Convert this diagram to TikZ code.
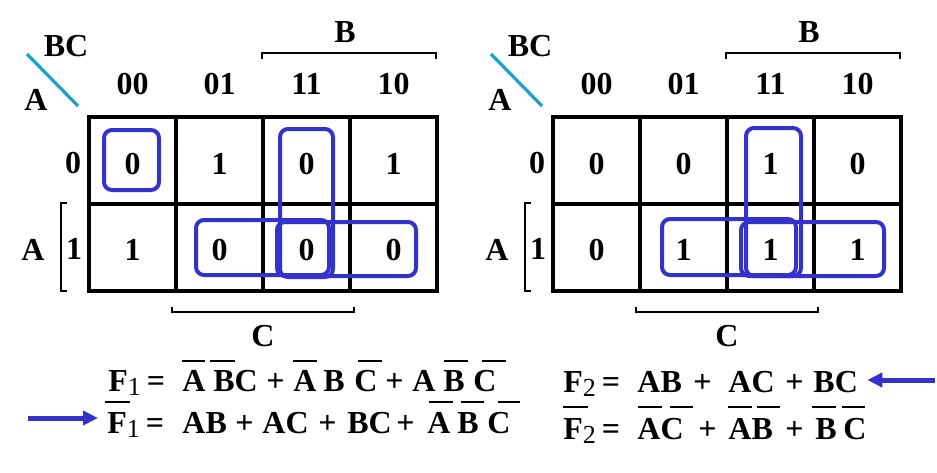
\documentclass[tikz,border=0pt]{standalone}
\usepackage{fontspec}
\setmainfont{Liberation Serif}
\usetikzlibrary{arrows.meta}

\definecolor{kblue}{RGB}{51,51,204}
\definecolor{kteal}{RGB}{23,162,200}
\newcommand{\fsub}[1]{\raisebox{-2pt}{\fontsize{13}{13}\selectfont\mdseries #1}}

\tikzset{
  kfont/.style={font=\fontsize{16}{19}\selectfont\bfseries},
  lbl/.style={kfont,inner sep=0pt},
  eq/.style={kfont,inner sep=0pt,anchor=base west},
  kgrid/.style={line width=1.6pt},
  brk/.style={line width=0.9pt},
  kloop/.style={draw=kblue,line width=2pt,rounded corners=4pt},
  ovl/.style={line width=0.7pt},
  slash/.style={draw=kteal,line width=1.6pt},
  hint/.style={draw=kblue,line width=2.5pt,-{Triangle[length=7.5pt,width=7pt]}}
}

\begin{document}
\begin{tikzpicture}[x=0.5pt,y=-0.5pt]
\useasboundingbox (0,0) rectangle (937,472);

% left map
\draw[kgrid] (89,117) rectangle (437,291);
\draw[kgrid] (176,117) -- (176,291);
\draw[kgrid] (263,117) -- (263,291);
\draw[kgrid] (350,117) -- (350,291);
\draw[kgrid] (89,204) -- (437,204);
\draw[slash] (27,54) -- (78,106);
\node[lbl] (bc1) at (66,46) {BC};
\node[lbl] (atop1) at (36,100) {A};
\node[lbl] (b1) at (345,32) {B};
\node[lbl] (c1) at (263,336) {C};
\node[lbl] (aside1) at (33,250) {A};
\draw[brk] (262,59) -- (262,53) -- (436,53) -- (436,59);
\draw[brk] (172,307) -- (172,312) -- (354,312) -- (354,307);
\draw[brk] (67,203) -- (61,203) -- (61,291) -- (67,291);
\node[lbl] (h1c00) at (132.5,84) {00};
\node[lbl] (h1c01) at (219.5,84) {01};
\node[lbl] (h1c11) at (306.5,84) {11};
\node[lbl] (h1c10) at (393.5,84) {10};
\node[lbl] (h1r0) at (73,163) {0};
\node[lbl] (h1r1) at (74,249) {1};
\node[lbl] (m1r0c00) at (132.5,164) {0};
\node[lbl] (m1r0c01) at (219.5,164) {1};
\node[lbl] (m1r0c11) at (306.5,164) {0};
\node[lbl] (m1r0c10) at (393.5,164) {1};
\node[lbl] (m1r1c00) at (132.5,250) {1};
\node[lbl] (m1r1c01) at (219.5,250) {0};
\node[lbl] (m1r1c11) at (306.5,250) {0};
\node[lbl] (m1r1c10) at (393.5,250) {0};
\draw[kloop] (104,130) rectangle (159,190);
\draw[kloop] (280,129) rectangle (333,277);
\draw[kloop] (196,220) rectangle (329,275);
\draw[kloop] (277,222) rectangle (416,276);

% right map
\draw[kgrid] (553,117) rectangle (901,291);
\draw[kgrid] (640,117) -- (640,291);
\draw[kgrid] (727,117) -- (727,291);
\draw[kgrid] (814,117) -- (814,291);
\draw[kgrid] (553,204) -- (901,204);
\draw[slash] (491,54) -- (542,106);
\node[lbl] (bc2) at (530,46) {BC};
\node[lbl] (atop2) at (500,100) {A};
\node[lbl] (b2) at (809,32) {B};
\node[lbl] (c2) at (727,336) {C};
\node[lbl] (aside2) at (497,250) {A};
\draw[brk] (726,59) -- (726,53) -- (900,53) -- (900,59);
\draw[brk] (636,307) -- (636,312) -- (818,312) -- (818,307);
\draw[brk] (531,203) -- (525,203) -- (525,291) -- (531,291);
\node[lbl] (h2c00) at (596.5,84) {00};
\node[lbl] (h2c01) at (683.5,84) {01};
\node[lbl] (h2c11) at (770.5,84) {11};
\node[lbl] (h2c10) at (857.5,84) {10};
\node[lbl] (h2r0) at (537,163) {0};
\node[lbl] (h2r1) at (538,249) {1};
\node[lbl] (m2r0c00) at (596.5,164) {0};
\node[lbl] (m2r0c01) at (683.5,164) {0};
\node[lbl] (m2r0c11) at (770.5,164) {1};
\node[lbl] (m2r0c10) at (857.5,164) {0};
\node[lbl] (m2r1c00) at (596.5,250) {0};
\node[lbl] (m2r1c01) at (683.5,250) {1};
\node[lbl] (m2r1c11) at (770.5,250) {1};
\node[lbl] (m2r1c10) at (857.5,250) {1};
\draw[kloop] (746,128) rectangle (801,276);
\draw[kloop] (662,219) rectangle (796,275);
\draw[kloop] (741,222) rectangle (884,276);

% F1
\node[eq] (f1a) at (108,391) {F\fsub{1}\hspace{3pt}=};
\node[eq] (f1a1) at (182,391) {A};
\node[eq] (f1a2) at (213,391) {BC};
\node[eq] (f1a3) at (266,391) {+};
\node[eq] (f1a4) at (293,391) {A};
\node[eq] (f1a5) at (323,391) {B};
\node[eq] (f1a6) at (354,391) {C};
\node[eq] (f1a7) at (385,391) {+};
\node[eq] (f1a8) at (412,391) {A};
\node[eq] (f1a9) at (443,391) {B};
\node[eq] (f1a10) at (473,391) {C};
\draw[ovl] (182,361) -- (205,361);
\draw[ovl] (210,361) -- (235,361);
\draw[ovl] (293,361) -- (317,361);
\draw[ovl] (358,361) -- (382,361);
\draw[ovl] (444,361) -- (468,361);
\draw[ovl] (482,361) -- (506,361);

\node[eq] (f1b) at (107,433) {F\fsub{1}\hspace{3pt}=};
\node[eq] (f1b1) at (182,433) {AB};
\node[eq] (f1b2) at (235,433) {+};
\node[eq] (f1b3) at (262,433) {AC};
\node[eq] (f1b4) at (318,433) {+};
\node[eq] (f1b5) at (347,433) {BC};
\node[eq] (f1b6) at (396,433) {+};
\node[eq] (f1b7) at (427,433) {A};
\node[eq] (f1b8) at (457,433) {B};
\node[eq] (f1b9) at (487,433) {C};
\draw[ovl] (105,402) -- (130,402);
\draw[ovl] (429,402) -- (453,402);
\draw[ovl] (461,402) -- (484,402);
\draw[ovl] (498,402) -- (520,402);
\coordinate (t1) at (28,418);
\draw[hint] (t1) -- ([xshift=-4.5pt]t1 -| f1b.west);

% F2
\node[eq] (f2a) at (563,392) {F\fsub{2}\hspace{3pt}=};
\node[eq] (f2a1) at (637,392) {AB};
\node[eq] (f2a2) at (693,392) {+};
\node[eq] (f2a3) at (728,392) {AC};
\node[eq] (f2a4) at (785,392) {+};
\node[eq] (f2a5) at (813,392) {BC};
\coordinate (t2) at (935,380);
\draw[hint] (t2) -- ([xshift=4.5pt]t2 -| f2a5.east);

\node[eq] (f2b) at (563,439) {F\fsub{2}\hspace{3pt}=};
\node[eq] (f2b1) at (637,439) {AC};
\node[eq] (f2b2) at (698,439) {+};
\node[eq] (f2b3) at (728,439) {AB};
\node[eq] (f2b4) at (785,439) {+};
\node[eq] (f2b5) at (815,439) {B};
\node[eq] (f2b6) at (843,439) {C};
\draw[ovl] (563,407) -- (588,407);
\draw[ovl] (638,407) -- (662,407);
\draw[ovl] (670,407) -- (693,407);
\draw[ovl] (728,407) -- (752,407);
\draw[ovl] (757,407) -- (780,407);
\draw[ovl] (812,407) -- (836,407);
\draw[ovl] (842,407) -- (865,407);
\end{tikzpicture}
\end{document}
